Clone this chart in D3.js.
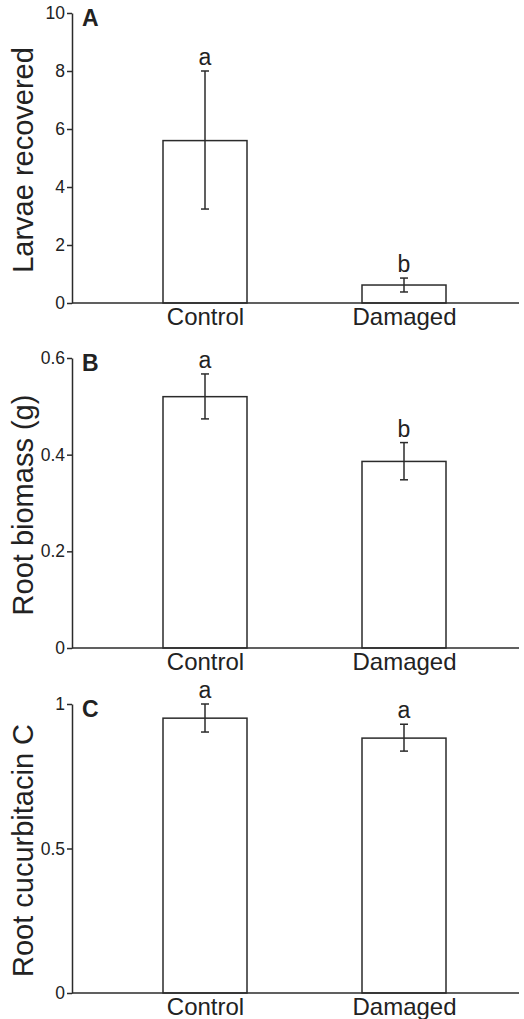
<!DOCTYPE html>
<html>
<head>
<meta charset="utf-8">
<script src="https://cdn.jsdelivr.net/npm/d3@7"></script>
<style>
  body { margin: 0; background: #fff; }
  svg { display: block; }
  text { font-family: "Liberation Sans", Arial, sans-serif; fill: #222; }
</style>
</head>
<body>
<div id="chart"></div>
<script>
// data
const categories = ["Control", "Damaged"];

const larvaeMean = [5.6, 0.62];
const larvaeLow = [3.24, 0.38];
const larvaeHigh = [8.0, 0.86];
const larvaeLetters = ["a", "b"];
const larvaeTicks = [0, 2, 4, 6, 8, 10];

const biomassMean = [0.52, 0.386];
const biomassLow = [0.474, 0.348];
const biomassHigh = [0.567, 0.425];
const biomassLetters = ["a", "b"];
const biomassTicks = [0, 0.2, 0.4, 0.6];

const cucMean = [0.951, 0.882];
const cucLow = [0.903, 0.837];
const cucHigh = [1.0, 0.93];
const cucLetters = ["a", "a"];
const cucTicks = [0, 0.5, 1];

const panels = [
  { tag: "A", label: "Larvae recovered", mean: larvaeMean, low: larvaeLow, high: larvaeHigh, letters: larvaeLetters, ticks: larvaeTicks, top: 13, bottom: 303 },
  { tag: "B", label: "Root biomass (g)", mean: biomassMean, low: biomassLow, high: biomassHigh, letters: biomassLetters, ticks: biomassTicks, top: 358, bottom: 648 },
  { tag: "C", label: "Root cucurbitacin C", mean: cucMean, low: cucLow, high: cucHigh, letters: cucLetters, ticks: cucTicks, top: 704, bottom: 993 }
];

const W = 524, H = 1019;
const axisX = 72, axisEnd = 519;
const barW = 84;
const ink = "#2b2b2b";

const svg = d3.select("#chart").append("svg")
  .attr("width", W)
  .attr("height", H);

const x = d3.scalePoint().domain(categories).range([205, 404]);

panels.forEach(p => {
  const g = svg.append("g");
  const y = d3.scaleLinear()
    .domain([0, d3.max(p.ticks)])
    .range([p.bottom, p.top]);

  // bars
  g.selectAll(".bar").data(categories).join("rect")
    .attr("class", "bar")
    .attr("x", d => x(d) - barW / 2)
    .attr("y", (d, i) => y(p.mean[i]))
    .attr("width", barW)
    .attr("height", (d, i) => y(0) - y(p.mean[i]))
    .attr("fill", "#fff")
    .attr("stroke", ink)
    .attr("stroke-width", 1.5);

  // error bars
  const eb = g.selectAll(".err").data(categories).join("g").attr("class", "err")
    .attr("stroke", ink).attr("stroke-width", 1.5);
  eb.append("line")
    .attr("x1", d => x(d)).attr("x2", d => x(d))
    .attr("y1", (d, i) => y(p.low[i])).attr("y2", (d, i) => y(p.high[i]));
  eb.append("line")
    .attr("x1", d => x(d) - 4).attr("x2", d => x(d) + 4)
    .attr("y1", (d, i) => y(p.low[i])).attr("y2", (d, i) => y(p.low[i]));
  eb.append("line")
    .attr("x1", d => x(d) - 4).attr("x2", d => x(d) + 4)
    .attr("y1", (d, i) => y(p.high[i])).attr("y2", (d, i) => y(p.high[i]));

  // significance letters
  g.selectAll(".sig").data(categories).join("text")
    .attr("class", "sig")
    .attr("x", d => x(d))
    .attr("y", (d, i) => y(p.high[i]) - 6)
    .attr("text-anchor", "middle")
    .attr("font-size", 23)
    .text((d, i) => p.letters[i]);

  // y axis
  const ay = g.append("g")
    .attr("transform", `translate(${axisX},0)`)
    .call(d3.axisLeft(y).tickValues(p.ticks).tickFormat(d3.format("~g")).tickSize(5).tickSizeOuter(0));
  ay.selectAll("path, line").attr("stroke", ink).attr("stroke-width", 1.5);
  ay.selectAll("text").attr("font-size", 17.5).attr("fill", "#222").attr("font-family", null).attr("x", -7);

  // x axis baseline + category labels
  g.append("line")
    .attr("x1", axisX).attr("x2", axisEnd)
    .attr("y1", y(0)).attr("y2", y(0))
    .attr("stroke", ink).attr("stroke-width", 1.5);
  const ax = g.append("g")
    .attr("transform", `translate(0,${y(0)})`)
    .call(d3.axisBottom(x).tickSize(0));
  ax.select(".domain").remove();
  ax.selectAll("text").attr("font-size", 24).attr("fill", "#222").attr("font-family", null).attr("dy", null).attr("y", 22);

  // y label
  g.append("text")
    .attr("transform", `translate(33,${(p.top + p.bottom) / 2 + 2}) rotate(-90)`)
    .attr("text-anchor", "middle")
    .attr("font-size", 29)
    .text(p.label);

  // panel tag
  g.append("text")
    .attr("x", 82)
    .attr("y", p.top + 13)
    .attr("font-size", 23)
    .attr("font-weight", "bold")
    .text(p.tag);
});
</script>
</body>
</html>
